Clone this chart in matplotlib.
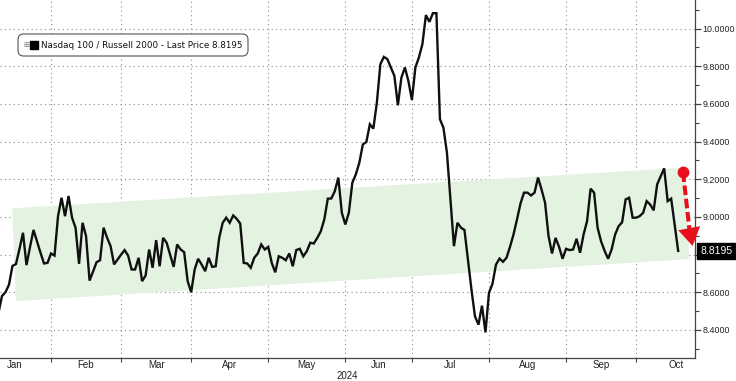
"""Nasdaq 100 / Russell 2000 ratio, 2024, with the rising green channel."""
import matplotlib

matplotlib.use("Agg")
import matplotlib.pyplot as plt
import numpy as np
from matplotlib.patches import FancyBboxPatch, Polygon

plt.rcParams["font.family"] = ["Liberation Sans", "DejaVu Sans"]

# trading-day index (0 = 2 Jan 2024) of the first plotted close
FIRST_DAY = 6
ratio = [
    8.49, 8.58, 8.60, 8.64, 8.74, 8.75, 8.83, 8.916, 8.744, 8.84,
    8.931, 8.87, 8.81, 8.753, 8.756, 8.806, 8.795, 9.004, 9.102, 9.004,
    9.111, 8.996, 8.943, 8.751, 8.969, 8.898, 8.662, 8.71, 8.76, 8.77,
    8.943, 8.89, 8.845, 8.748, 8.774, 8.80, 8.824, 8.795, 8.721, 8.721,
    8.783, 8.659, 8.689, 8.827, 8.73, 8.877, 8.738, 8.889, 8.863, 8.80,
    8.735, 8.854, 8.827, 8.813, 8.659, 8.60, 8.721, 8.778, 8.747, 8.712,
    8.783, 8.735, 8.738, 8.889, 8.969, 8.996, 8.969, 9.008, 8.99, 8.965,
    8.756, 8.753, 8.73, 8.783, 8.806, 8.854, 8.827, 8.841, 8.756, 8.706,
    8.791, 8.783, 8.77, 8.806, 8.738, 8.824, 8.831, 8.791, 8.818, 8.863,
    8.859, 8.889, 8.924, 8.987, 9.097, 9.098, 9.137, 9.209, 9.022, 8.96,
    9.022, 9.182, 9.226, 9.288, 9.385, 9.398, 9.492, 9.469, 9.607, 9.811,
    9.85, 9.838, 9.794, 9.749, 9.593, 9.74, 9.794, 9.722, 9.621, 9.794,
    9.847, 9.918, 10.072, 10.036, 10.082, 10.082, 9.519, 9.474, 9.341, 9.093,
    8.845, 8.969, 8.943, 8.931, 8.774, 8.614, 8.472, 8.428, 8.529, 8.387,
    8.597, 8.645, 8.747, 8.779, 8.762, 8.783, 8.841, 8.907, 8.987, 9.072,
    9.129, 9.129, 9.114, 9.129, 9.209, 9.146, 9.076, 8.898, 8.806, 8.889,
    8.841, 8.778, 8.831, 8.824, 8.827, 8.884, 8.81, 8.907, 8.978, 9.15,
    9.129, 8.943, 8.87, 8.82, 8.778, 8.827, 8.907, 8.951, 8.972, 9.093,
    9.102, 8.996, 8.996, 9.004, 9.022, 9.084, 9.066, 9.035, 9.173, 9.215,
    9.258, 9.084, 9.097, 8.96, 8.8195,
]
LAST_PRICE = 8.8195

months = ["Jan", "Feb", "Mar", "Apr", "May", "Jun", "Jul", "Aug", "Sep", "Oct"]
month_start = [0, 21, 41, 61, 83, 105, 124, 146, 168, 188, 211]
y_ticks = [8.4, 8.6, 8.8, 9.0, 9.2, 9.4, 9.6, 9.8, 10.0]

# channel corners (day index, ratio): top-left, top-right, bottom-right, bottom-left
channel = [(9.9, 9.046), (202.0, 9.262), (203.2, 8.776), (11.0, 8.553)]
# red "breakdown" arrow: start dot, end of dashed shaft, arrow tip
arrow_start = (201.4, 9.237)
arrow_base = (203.2, 8.935)
arrow_tip = (204.1, 8.846)

RED = "#e8101a"
GRID = "#8c8c8c"
TXT = "#222222"

fig = plt.figure(figsize=(7.36, 3.81), dpi=100)
ax = fig.add_axes([0.0, 1 - 358 / 381, 695 / 736, 358 / 381])

ax.add_patch(Polygon(channel, closed=True, facecolor="#e4f3e1", edgecolor="none", zorder=1))

x = np.arange(FIRST_DAY, FIRST_DAY + len(ratio))
ax.plot(x, ratio, color="#101010", linewidth=1.7, zorder=3, solid_joinstyle="miter")

ax.set_xlim(6.44, 204.8)
ax.set_ylim(8.251, 10.152)

# grid
for m in month_start[1:-1]:
    ax.axvline(m, color=GRID, linewidth=0.8, linestyle=(0, (1, 3)), zorder=0)
for t in y_ticks:
    ax.axhline(t, color=GRID, linewidth=0.8, linestyle=(0, (1, 3)), zorder=0)

# axes / ticks
for side in ("left", "top"):
    ax.spines[side].set_visible(False)
for side in ("right", "bottom"):
    ax.spines[side].set_color("#444444")
    ax.spines[side].set_linewidth(0.9)
ax.yaxis.tick_right()
ax.set_yticks(y_ticks)
# the 8.8 label sits under the last-price tag
ax.set_yticklabels(["" if abs(t - 8.8) < 1e-9 else f"{t:.4f}" for t in y_ticks])
ax.set_yticks(np.arange(8.3, 10.15, 0.2), minor=True)
ax.tick_params(axis="y", which="major", direction="out", length=4, width=0.9,
               color="#444444", labelsize=6.4, labelcolor=TXT, pad=1.2)
ax.tick_params(axis="y", which="minor", direction="out", length=3, width=0.8, color="#444444")

ax.set_xticks(month_start[1:-1])
ax.set_xticklabels([])
ax.tick_params(axis="x", which="major", direction="out", length=3, width=0.8, color="#444444")
for name, a, b in zip(months, month_start[:-1], month_start[1:]):
    ax.text((a + b) / 2, -0.006, name, transform=ax.get_xaxis_transform(),
            ha="center", va="top", fontsize=7, color=TXT, clip_on=False)
ax.text(0.5, -0.036, "2024", transform=ax.transAxes, ha="center", va="top",
        fontsize=7, color=TXT)

# last price tag on the axis
ax.annotate(f"{LAST_PRICE:.4f}", xy=(1.0, LAST_PRICE), xycoords=("axes fraction", "data"),
            xytext=(4, 0), textcoords="offset points", ha="left", va="center",
            fontsize=7.5, color="white", zorder=8, annotation_clip=False,
            bbox=dict(boxstyle="square,pad=0.3", facecolor="black", edgecolor="black"))

# legend box
ax.add_patch(FancyBboxPatch((18 / 695, 1 - 56 / 358), 230 / 695, 22 / 358,
                            boxstyle="round,pad=0,rounding_size=0.008",
                            mutation_aspect=2.0, transform=ax.transAxes,
                            facecolor="white", edgecolor="#555555", linewidth=0.8, zorder=6))
ax.text(41 / 695, 1 - 45 / 358, "Nasdaq 100 / Russell 2000 - Last Price 8.8195",
        transform=ax.transAxes, ha="left", va="center", fontsize=6.3, color="#111111",
        family=["DejaVu Sans"], zorder=7)
ax.plot(33.5 / 695, 1 - 45 / 358, marker="s", markersize=5.2, color="black",
        transform=ax.transAxes, zorder=7)
ax.text(26 / 695, 1 - 45 / 358, "\u229e", transform=ax.transAxes, ha="center", va="center",
        fontsize=5, color="#777777", family=["DejaVu Sans"], zorder=7)

# red arrow
ax.plot([arrow_start[0], arrow_base[0]], [arrow_start[1], arrow_base[1]], color=RED,
        linewidth=2.9, linestyle=(0, (2.4, 0.9)), clip_on=False, zorder=5)
ax.plot(*arrow_start, marker="o", markersize=7.5, color=RED, clip_on=False, zorder=5)
ax.annotate("", xy=arrow_tip, xytext=arrow_base,
            arrowprops=dict(arrowstyle="-|>,head_length=1.3,head_width=0.8",
                            color=RED, linewidth=0, shrinkA=0, shrinkB=0),
            annotation_clip=False, zorder=5)

fig.savefig("out.png", dpi=100)
